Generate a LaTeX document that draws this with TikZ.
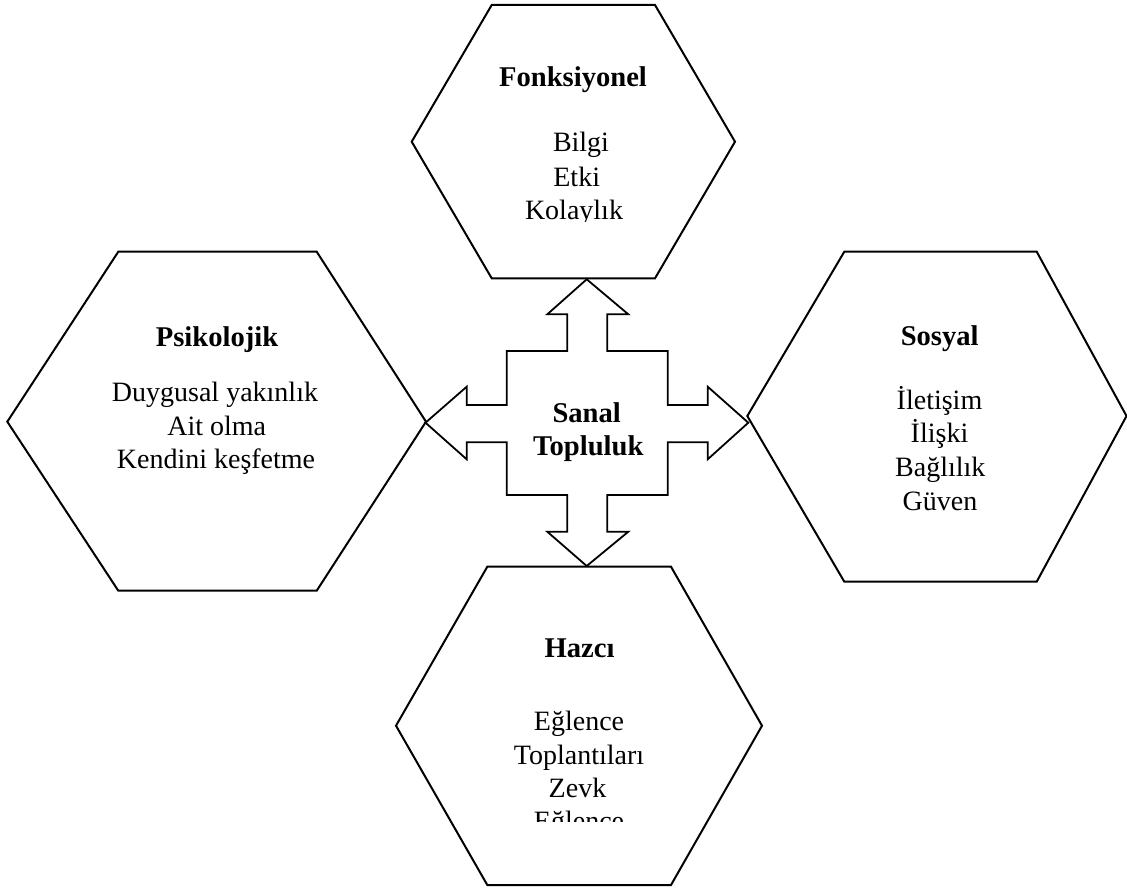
\documentclass[tikz,border=0pt]{standalone}
\usepackage{fontspec}
\setmainfont{Liberation Serif}
\begin{document}
\begin{tikzpicture}[x=0.5pt,y=-0.5pt,
  hexagon/.style={draw=black,line width=1pt,line join=miter},
  crossarrow/.style={draw=black,line width=0.9pt,line join=miter,fill=white},
  title/.style={anchor=base,inner sep=0pt,font=\fontsize{14.3}{16.5}\selectfont\bfseries},
  item/.style={anchor=base,inner sep=0pt,font=\fontsize{14}{16.5}\selectfont}]
\useasboundingbox (0,0) rectangle (1127,888);

% four category hexagons
\draw[hexagon] (491.7,5) -- (655,5) -- (735,141.7) -- (655,278.3) -- (491.7,278.3) -- (411.7,141.7) -- cycle;
\draw[hexagon] (118.3,251.7) -- (316.7,251.7) -- (426,421.7) -- (316.7,590.7) -- (118.3,590.7) -- (7.3,421.7) -- cycle;
\draw[hexagon] (844.3,251.7) -- (1036.7,251.7) -- (1126.5,416) -- (1036.7,581.7) -- (844.3,581.7) -- (747.3,416) -- cycle;
\draw[hexagon] (487.3,566.7) -- (671,566.7) -- (762,725.7) -- (671,885) -- (487.3,885) -- (396,725.7) -- cycle;

% four-way arrow in the middle
\draw[crossarrow] (586.7,279.3) -- (628.3,314.3) -- (607.3,314.3) -- (607.3,351)
  -- (667.7,351) -- (667.7,405) -- (707.7,405) -- (707.7,386.7) -- (748.3,422.7)
  -- (707.7,459.3) -- (707.7,442.3) -- (667.7,442.3) -- (667.7,495) -- (607.3,495)
  -- (607.3,531.7) -- (628.3,531.7) -- (586.7,566) -- (547.3,531.7) -- (567.3,531.7)
  -- (567.3,495) -- (506.7,495) -- (506.7,442.3) -- (466.7,442.3) -- (466.7,459.3)
  -- (425.5,422.7) -- (466.7,386.7) -- (466.7,405) -- (506.7,405) -- (506.7,351)
  -- (567.3,351) -- (567.3,314.3) -- (547.3,314.3) -- cycle;

% centre
\node[title] (sanal) at (586.7,422.7) {Sanal};
\node[title] (topluluk) at (588.3,455) {Topluluk};

% Fonksiyonel
\node[title] (fonk) at (573,86.7) {Fonksiyonel};
\node[item] (bilgi) at (581,151.7) {Bilgi};
\node[item] (etki) at (576.7,186) {Etki};
\begin{scope}
  \clip (480,190) rectangle (680,221.7);
  \node[item] (kolaylik) at (574,219.3) {Kolaylık};
\end{scope}

% Psikolojik
\node[title] (psiko) at (217,346) {Psikolojik};
\node[item] (duygu) at (215,401.7) {Duygusal yakınlık};
\node[item] (ait) at (216.7,435) {Ait olma};
\node[item] (kendi) at (216,468.3) {Kendini keşfetme};

% Sosyal
\node[title] (sosyal) at (939.7,345) {Sosyal};
\node[item] (iletisim) at (939.5,409.3) {İletişim};
\node[item] (iliski) at (939.5,442.7) {İlişki};
\node[item] (baglilik) at (940.3,476.7) {Bağlılık};
\node[item] (guven) at (940,510) {Güven};

% Hazcı
\node[title] (hazci) at (579.5,657) {Hazcı};
\node[item] (eglence) at (579,730.7) {Eğlence};
\node[item] (toplanti) at (579,764) {Toplantıları};
\node[item] (zevk) at (577.5,797) {Zevk};
\begin{scope}
  \clip (480,800) rectangle (680,821.7);
  \node[item] (eglence2) at (579,830) {Eğlence};
\end{scope}
\end{tikzpicture}
\end{document}
